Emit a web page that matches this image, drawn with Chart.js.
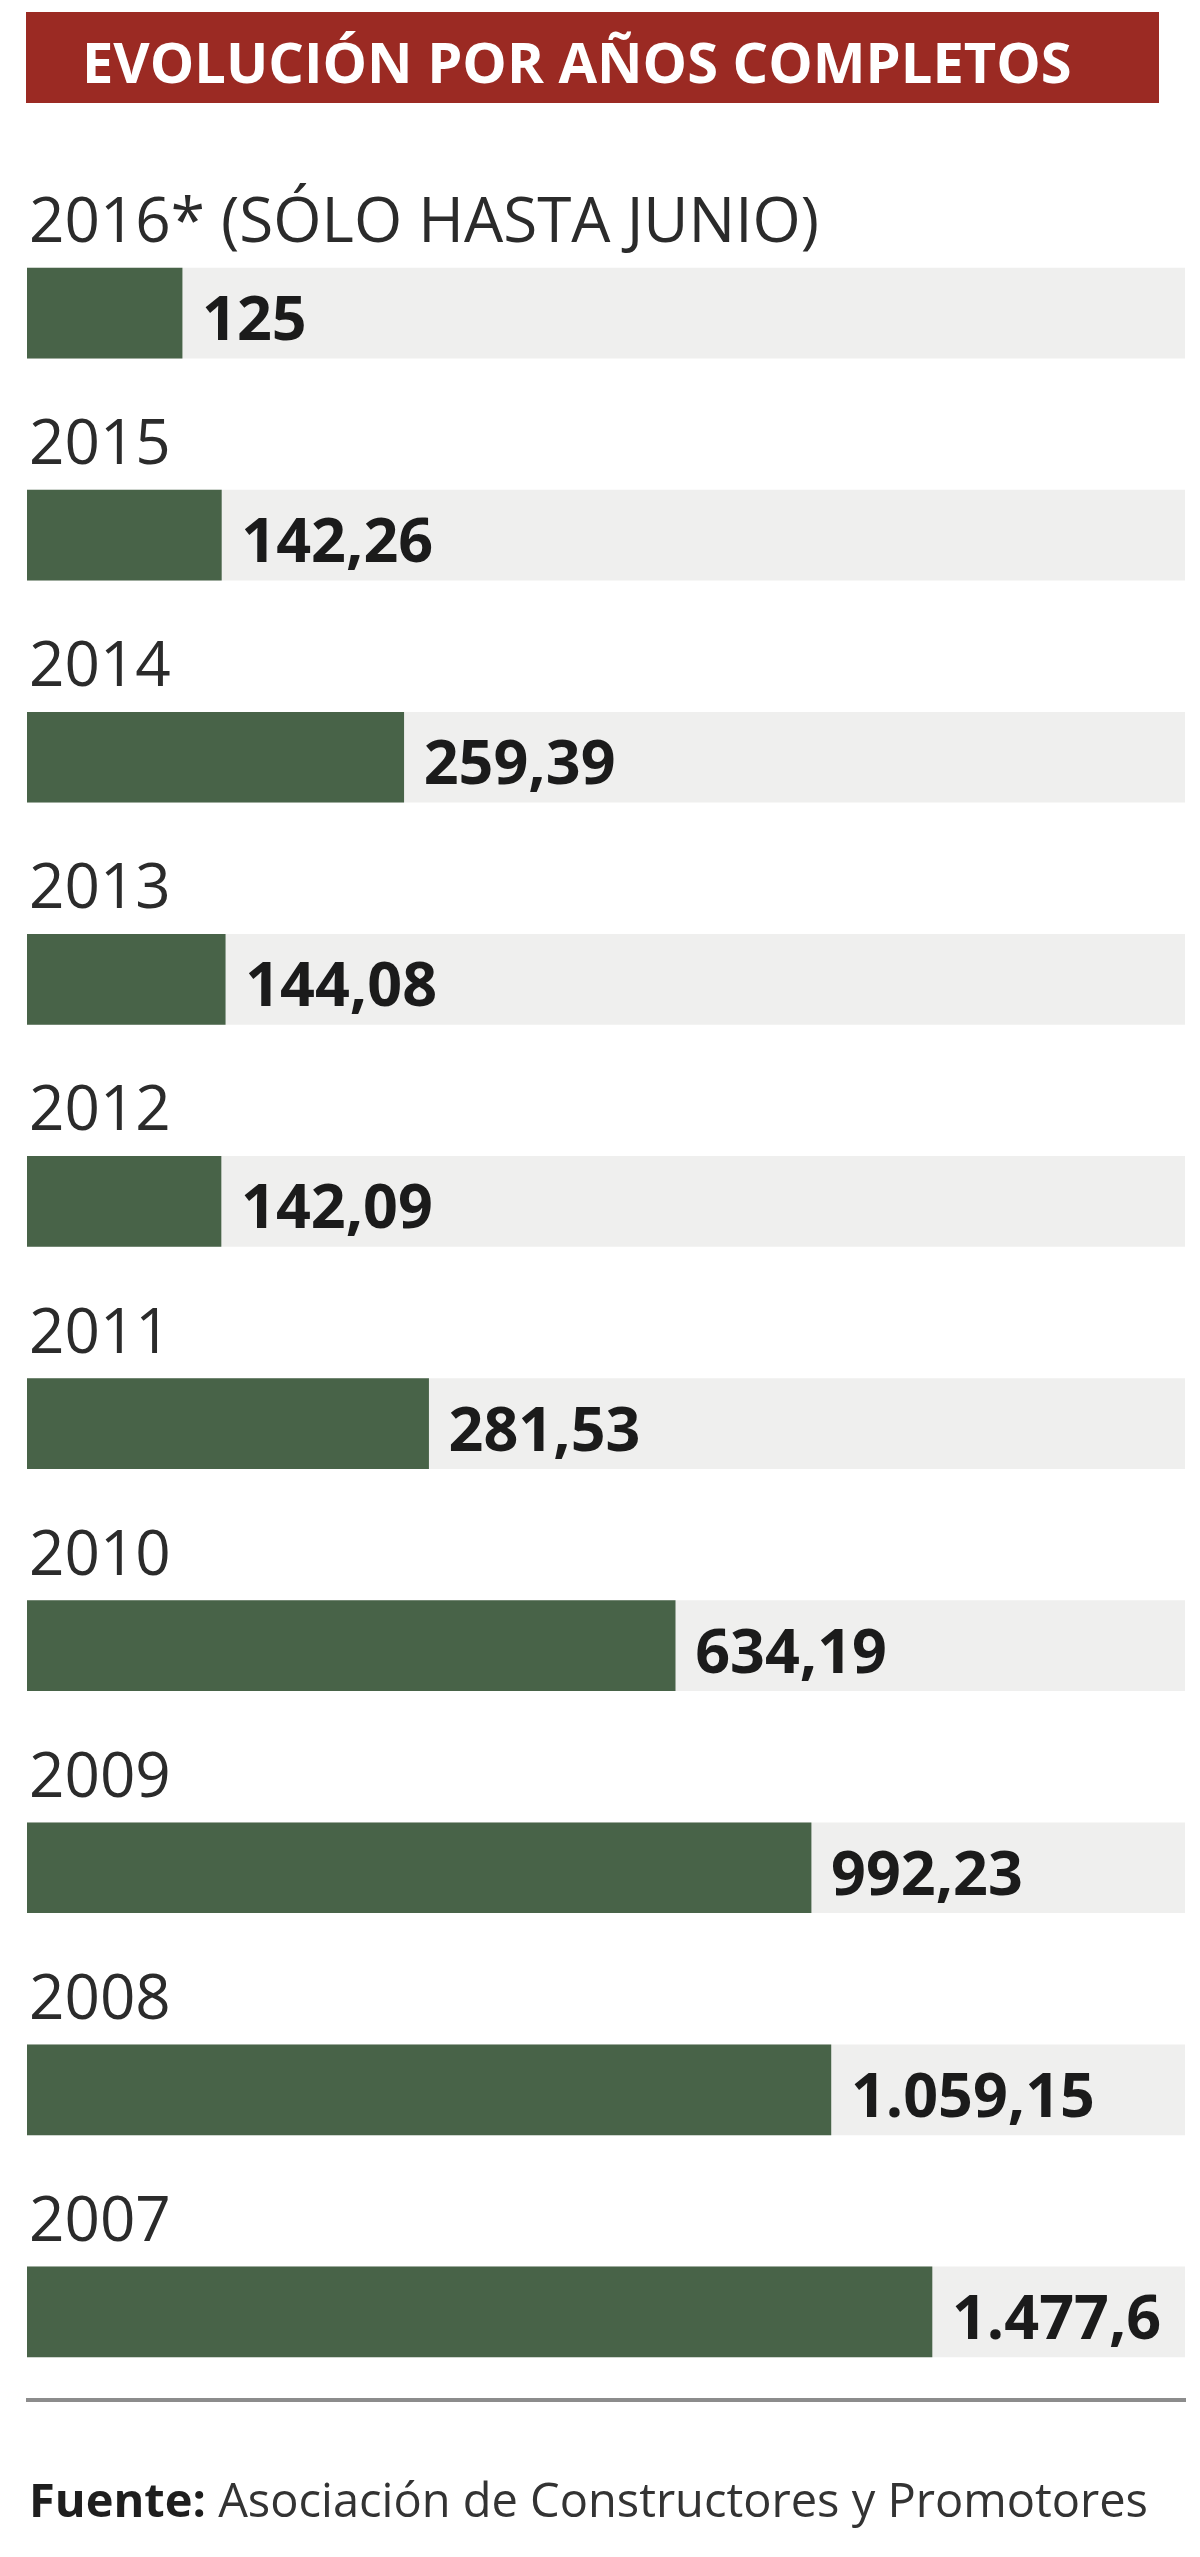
<!DOCTYPE html>
<html lang="es">
<head>
<meta charset="utf-8">
<title>Evolución por años completos</title>
<script src="https://cdn.jsdelivr.net/npm/chart.js@4.4.1/dist/chart.umd.min.js"></script>
<style>
  html, body { margin: 0; padding: 0; background: #fff; }
  #page { position: relative; width: 1200px; height: 2557px; overflow: hidden; font-family: "Open Sans", sans-serif; }
  #myChart { position: absolute; left: 0; top: 0; }
  .titulo { position: absolute; left: 26px; top: 12px; width: 1133px; height: 91px; background: #9b2a23; }
  .titulo span { position: absolute; left: 56px; top: 11px; color: #fff; font-weight: 700; font-size: 56px; white-space: nowrap; }
  .linea { position: absolute; left: 26px; top: 2398px; width: 1160px; height: 4px; background: #8c8c8c; }
  .fuente { position: absolute; left: 29px; top: 2467px; font-size: 47px; color: #333; white-space: nowrap; }
  .fuente b { color: #1e1e1e; }
</style>
</head>
<body>
<div id="page">
  <canvas id="myChart" width="1200" height="2557"></canvas>
  <div class="titulo"><span>EVOLUCIÓN POR AÑOS COMPLETOS</span></div>
  <div class="linea"></div>
  <div class="fuente"><b>Fuente:</b> Asociación de Constructores y Promotores</div>
</div>
<script>
// datos
var years = ['2016* (SÓLO HASTA JUNIO)', '2015', '2014', '2013', '2012', '2011', '2010', '2009', '2008', '2007']
var values = [125, 142.26, 259.39, 144.08, 142.09, 281.53, 634.19, 992.23, 1059.15, 1477.6]
var valueLabels = ['125', '142,26', '259,39', '144,08', '142,09', '281,53', '634,19', '992,23', '1.059,15', '1.477,6']

var evolucion = {
    xMin: 75,
    xMax: 3400,
    init: function () {
        evolucion.funcs.createChart()
    },
    funcs: {
        // año encima de la barra y valor a la derecha
        labelsPlugin: function () {
            return {
                id: 'etiquetas',
                afterDatasetsDraw: function (chart) {
                    var ctx = chart.ctx
                    var meta = chart.getDatasetMeta(0)
                    ctx.save()
                    ctx.textAlign = 'left'
                    ctx.textBaseline = 'alphabetic'
                    meta.data.forEach(function (bar, i) {
                        var top = bar.y - bar.height / 2
                        ctx.fillStyle = '#2b2b2b'
                        ctx.font = '400 62px "Open Sans"'
                        ctx.fillText(years[i], bar.base + 2, top - 26)
                        ctx.fillStyle = '#1b1b1b'
                        ctx.font = '700 61px "Open Sans"'
                        ctx.fillText(valueLabels[i], bar.x + 20, bar.y + 27)
                    })
                    ctx.restore()
                }
            }
        },
        createChart: function () {
            var track = years.map(function () { return evolucion.xMax })
            var ctx = document.getElementById('myChart').getContext('2d')
            new Chart(ctx, {
                type: 'bar',
                data: {
                    labels: years,
                    datasets: [
                        {
                            label: 'Valor',
                            data: values,
                            backgroundColor: '#486348',
                            barThickness: 90,
                            grouped: false,
                            order: 0
                        },
                        {
                            label: 'Fondo',
                            data: track,
                            backgroundColor: '#efefee',
                            barThickness: 90,
                            grouped: false,
                            order: 1
                        }
                    ]
                },
                options: {
                    indexAxis: 'y',
                    responsive: false,
                    animation: false,
                    layout: { padding: { left: 27, right: 15, top: 202, bottom: 134 } },
                    plugins: { legend: { display: false }, tooltip: { enabled: false } },
                    scales: {
                        x: { type: 'logarithmic', min: evolucion.xMin, max: evolucion.xMax, display: false },
                        y: { display: false }
                    }
                },
                plugins: [evolucion.funcs.labelsPlugin()]
            })
        }
    }
}

evolucion.init()
</script>
</body>
</html>
